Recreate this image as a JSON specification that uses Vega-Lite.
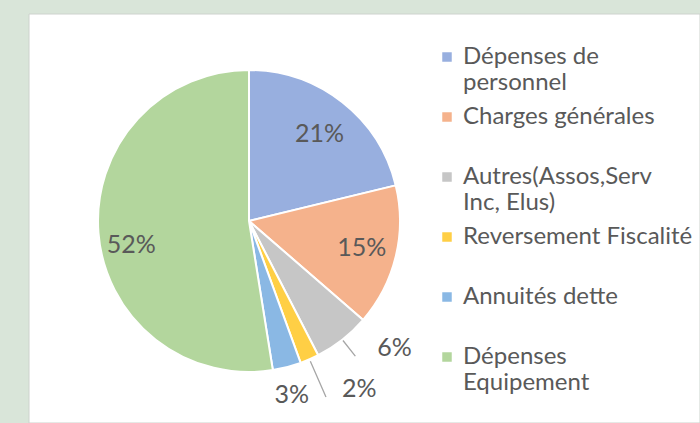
{
  "$schema": "https://vega.github.io/schema/vega-lite/v6.json",
  "width": 671,
  "height": 409,
  "autosize": "none",
  "padding": {"left": 29, "top": 14, "right": 0, "bottom": 0},
  "background": "#d9e5d9",
  "config": {
    "view": {"stroke": null},
    "text": {"font": "Lato", "fontSize": 25, "color": "#595959"}
  },
  "datasets": {
    "depenses": [
      {"poste": "Dépenses de personnel", "share": 0.21, "rank": 1},
      {"poste": "Charges générales", "share": 0.15, "rank": 2},
      {"poste": "Autres(Assos,Serv Inc, Elus)", "share": 0.06, "rank": 3},
      {"poste": "Reversement Fiscalité", "share": 0.02, "rank": 4},
      {"poste": "Annuités dette", "share": 0.03, "rank": 5},
      {"poste": "Dépenses Equipement", "share": 0.52, "rank": 6}
    ],
    "panel": [{"name": "panel"}]
  },
  "layer": [
    {
      "data": {"name": "panel"},
      "mark": {"type": "rect", "fill": "white", "stroke": "#cdd2cd", "strokeWidth": 1},
      "encoding": {
        "x": {"value": 0},
        "x2": {"value": "width"},
        "y": {"value": 0},
        "y2": {"value": "height"}
      }
    },
    {
      "data": {"name": "depenses"},
      "encoding": {
        "theta": {"field": "share", "type": "quantitative", "stack": true},
        "order": {"field": "rank", "type": "quantitative"}
      },
      "layer": [
        {
          "mark": {"type": "arc", "outerRadius": 151, "stroke": "white", "strokeWidth": 2, "xOffset": -115.5, "yOffset": 2.5},
          "encoding": {
            "color": {
              "field": "poste",
              "type": "nominal",
              "sort": null,
              "scale": {"range": ["#98afdf", "#f5b28c", "#c6c6c6", "#ffcf45", "#8ab8e4", "#b3d69d"]},
              "legend": {
                "title": null,
                "orient": "none",
                "legendX": 406,
                "legendY": 31,
                "symbolType": "square",
                "symbolSize": 90,
                "symbolStrokeWidth": 0,
                "labelFont": "Lato",
                "labelFontSize": 24,
                "labelColor": "#595959",
                "labelOffset": 4,
                "labelLimit": 300,
                "labelBaseline": "middle",
                "rowPadding": 10,
                "labelExpr": "datum.label == 'Dépenses de personnel' ? ['Dépenses de', 'personnel'] : datum.label == 'Autres(Assos,Serv Inc, Elus)' ? ['Autres(Assos,Serv', 'Inc, Elus)'] : datum.label == 'Dépenses Equipement' ? ['Dépenses', 'Equipement'] : [datum.label, ' ']"
              }
            }
          }
        },
        {
          "mark": {"type": "text", "radius": 111, "dx": 2, "xOffset": -115.5, "yOffset": 2.5},
          "encoding": {
            "detail": {"field": "poste"},
            "text": {"condition": {"test": "datum.poste == 'Dépenses de personnel'", "field": "share", "type": "quantitative", "format": ".0%"}, "value": ""}
          }
        },
        {
          "mark": {"type": "text", "radius": 116, "xOffset": -115.5, "yOffset": 2.5},
          "encoding": {
            "detail": {"field": "poste"},
            "text": {"condition": {"test": "datum.poste == 'Charges générales'", "field": "share", "type": "quantitative", "format": ".0%"}, "value": ""}
          }
        },
        {
          "mark": {"type": "text", "radius": 118, "dy": 15, "xOffset": -115.5, "yOffset": 2.5},
          "encoding": {
            "detail": {"field": "poste"},
            "text": {"condition": {"test": "datum.poste == 'Dépenses Equipement'", "field": "share", "type": "quantitative", "format": ".0%"}, "value": ""}
          }
        },
        {
          "mark": {"type": "arc", "outerRadius": 172, "innerRadius": 152, "padAngle": 1, "fill": "transparent", "stroke": "#a6a6a6", "strokeWidth": 1.3, "xOffset": -115.5, "yOffset": 2.5},
          "encoding": {
            "detail": {"field": "poste"},
            "strokeOpacity": {"condition": {"test": "datum.poste == 'Autres(Assos,Serv Inc, Elus)'", "value": 1}, "value": 0}
          }
        },
        {
          "mark": {"type": "arc", "outerRadius": 192, "innerRadius": 153, "padAngle": 1, "fill": "transparent", "stroke": "#a6a6a6", "strokeWidth": 1.3, "xOffset": -115.5, "yOffset": 2.5},
          "encoding": {
            "detail": {"field": "poste"},
            "strokeOpacity": {"condition": {"test": "datum.poste == 'Reversement Fiscalité'", "value": 1}, "value": 0}
          }
        },
        {
          "mark": {"type": "text", "radius": 172, "align": "left", "dx": 22, "dy": -8, "xOffset": -115.5, "yOffset": 2.5},
          "encoding": {
            "detail": {"field": "poste"},
            "text": {"condition": {"test": "datum.poste == 'Autres(Assos,Serv Inc, Elus)'", "field": "share", "type": "quantitative", "format": ".0%"}, "value": ""}
          }
        },
        {
          "mark": {"type": "text", "radius": 192, "align": "left", "dx": 16, "dy": -8, "xOffset": -115.5, "yOffset": 2.5},
          "encoding": {
            "detail": {"field": "poste"},
            "text": {"condition": {"test": "datum.poste == 'Reversement Fiscalité'", "field": "share", "type": "quantitative", "format": ".0%"}, "value": ""}
          }
        },
        {
          "mark": {"type": "text", "radius": 178, "dx": -2, "dy": 2, "xOffset": -115.5, "yOffset": 2.5},
          "encoding": {
            "detail": {"field": "poste"},
            "text": {"condition": {"test": "datum.poste == 'Annuités dette'", "field": "share", "type": "quantitative", "format": ".0%"}, "value": ""}
          }
        }
      ]
    }
  ]
}
